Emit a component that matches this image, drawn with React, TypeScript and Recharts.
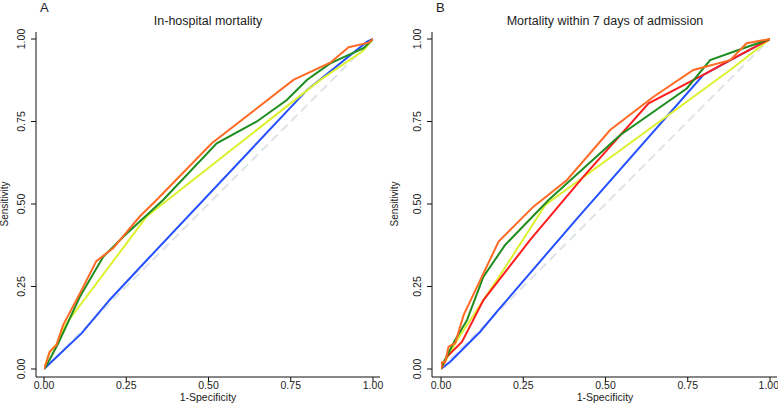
import { LineChart, Line, XAxis, YAxis, ReferenceLine } from 'recharts'

// ROC curves: 1-specificity (x) / sensitivity (y)
const ticks = [0, 0.25, 0.5, 0.75, 1]

// Panel A - in-hospital mortality
const aOrangeX = [0, 0.007, 0.017, 0.038, 0.058, 0.109, 0.159, 0.21, 0.291, 0.342, 0.51, 0.758, 0.87, 0.926, 0.987, 1]
const aOrangeY = [0, 0.02, 0.052, 0.073, 0.133, 0.229, 0.327, 0.366, 0.462, 0.512, 0.684, 0.876, 0.928, 0.975, 0.989, 1]
const aGreenX = [0, 0.007, 0.027, 0.043, 0.109, 0.18, 0.241, 0.362, 0.525, 0.647, 0.738, 0.799, 0.87, 0.971, 1]
const aGreenY = [0, 0.01, 0.047, 0.077, 0.219, 0.34, 0.401, 0.512, 0.684, 0.75, 0.815, 0.876, 0.926, 0.972, 1]
const aYellowX = [0, 0.017, 0.038, 0.068, 0.312, 0.84, 0.971, 1]
const aYellowY = [0, 0.05, 0.075, 0.138, 0.462, 0.876, 0.965, 1]
const aBlueX = [0, 0.114, 0.2, 0.322, 0.799, 0.982, 1]
const aBlueY = [0, 0.108, 0.21, 0.34, 0.845, 0.992, 1]

// Panel B - mortality within 7 days of admission
const bOrangeX = [0, 0.003, 0.013, 0.023, 0.043, 0.069, 0.175, 0.281, 0.383, 0.514, 0.646, 0.767, 0.879, 0.929, 1]
const bOrangeY = [0, 0.02, 0.022, 0.068, 0.078, 0.164, 0.386, 0.492, 0.573, 0.724, 0.825, 0.906, 0.936, 0.987, 1]
const bGreenX = [0, 0.005, 0.043, 0.079, 0.129, 0.195, 0.327, 0.545, 0.747, 0.818, 0.919, 1]
const bGreenY = [0, 0.015, 0.088, 0.148, 0.28, 0.376, 0.512, 0.709, 0.85, 0.936, 0.972, 1]
const bRedX = [0, 0.018, 0.064, 0.129, 0.271, 0.433, 0.631, 0.797, 0.879, 1]
const bRedY = [0, 0.037, 0.083, 0.209, 0.391, 0.583, 0.805, 0.891, 0.936, 1]
const bYellowX = [0, 0.049, 0.129, 0.18, 0.317, 0.879, 1]
const bYellowY = [0, 0.088, 0.209, 0.285, 0.497, 0.906, 1]
const bBlueX = [0, 0.028, 0.119, 0.17, 0.418, 0.797, 1]
const bBlueY = [0, 0.022, 0.113, 0.174, 0.461, 0.891, 1]

const toPoints = (xs: number[], ys: number[]) => xs.map((x, i) => ({ x, y: ys[i] }))

const FONT = '"Liberation Sans", Arial, Helvetica, sans-serif'
const TEXT = '#222'

const YTick = ({ x, y, payload }: any) => (
  <text
    transform={`translate(${x - 6},${y}) rotate(-90)`}
    textAnchor="middle"
    fontSize={10.5}
    fontFamily={FONT}
    fill={TEXT}
  >
    {Number(payload.value).toFixed(2)}
  </text>
)

interface Series {
  color: string
  xs: number[]
  ys: number[]
}

interface PanelProps {
  width: number
  yAxisWidth: number
  padLeft: number
  series: Series[]
}

function RocPanel({ width, yAxisWidth, padLeft, series }: PanelProps) {
  return (
    <LineChart width={width} height={403} margin={{ top: 32, right: width === 390 ? 10 : 1, bottom: 0, left: 0 }}>
      <XAxis
        dataKey="x"
        type="number"
        domain={[0, 1]}
        ticks={ticks}
        tickFormatter={(v: number) => v.toFixed(2)}
        padding={{ left: padLeft, right: 7 }}
        height={26}
        tickSize={5}
        tickMargin={0}
        stroke="#111"
        tick={{ fill: TEXT, fontSize: 10.5, fontFamily: FONT }}
        allowDataOverflow
      />
      <YAxis
        dataKey="y"
        type="number"
        domain={[0, 1]}
        ticks={ticks}
        padding={{ top: 7, bottom: 8 }}
        width={yAxisWidth}
        tickSize={5}
        tickMargin={0}
        stroke="#111"
        tick={<YTick />}
      />
      <ReferenceLine
        segment={[{ x: 0, y: 0 }, { x: 1, y: 1 }]}
        stroke="#dfe4e8"
        strokeWidth={2}
        strokeDasharray="9 5"
        ifOverflow="visible"
      />
      {series.map((s, i) => (
        <Line
          key={i}
          data={toPoints(s.xs, s.ys)}
          dataKey="y"
          stroke={s.color}
          strokeWidth={2}
          dot={false}
          type="linear"
          isAnimationActive={false}
        />
      ))}
    </LineChart>
  )
}

const ORANGE = '#ff6a24'
const GREEN = '#1e8c1e'
const YELLOW = '#dcf030'
const BLUE = '#2450ff'
const RED = '#ff1e1e'

const seriesA: Series[] = [
  { color: BLUE, xs: aBlueX, ys: aBlueY },
  { color: YELLOW, xs: aYellowX, ys: aYellowY },
  { color: GREEN, xs: aGreenX, ys: aGreenY },
  { color: ORANGE, xs: aOrangeX, ys: aOrangeY },
]

const seriesB: Series[] = [
  { color: BLUE, xs: bBlueX, ys: bBlueY },
  { color: YELLOW, xs: bYellowX, ys: bYellowY },
  { color: RED, xs: bRedX, ys: bRedY },
  { color: GREEN, xs: bGreenX, ys: bGreenY },
  { color: ORANGE, xs: bOrangeX, ys: bOrangeY },
]

const abs = (left: number, top: number, extra: React.CSSProperties = {}): React.CSSProperties => ({
  position: 'absolute',
  left,
  top,
  fontFamily: FONT,
  color: TEXT,
  whiteSpace: 'nowrap',
  lineHeight: 1,
  ...extra,
})

export default function App() {
  return (
    <div style={{ position: 'absolute', left: 0, top: 0, width: 778, height: 403, background: '#fff', overflow: 'hidden' }}>
      <div style={{ position: 'absolute', left: 0, top: 0 }}>
        <RocPanel width={390} yAxisWidth={36} padLeft={8} series={seriesA} />
      </div>
      <div style={{ position: 'absolute', left: 390, top: 0 }}>
        <RocPanel width={388} yAxisWidth={42} padLeft={9} series={seriesB} />
      </div>

      <div style={abs(40, 1, { fontSize: 13 })}>A</div>
      <div style={abs(436, 1, { fontSize: 13 })}>B</div>

      <div style={abs(208, 15, { fontSize: 12.5, transform: 'translateX(-50%)' })}>In-hospital mortality</div>
      <div style={abs(605, 15, { fontSize: 12.5, transform: 'translateX(-50%)' })}>Mortality within 7 days of admission</div>

      <div style={abs(208, 392, { fontSize: 10.5, transform: 'translateX(-50%)' })}>1-Specificity</div>
      <div style={abs(605, 392, { fontSize: 10.5, transform: 'translateX(-50%)' })}>1-Specificity</div>

      <div style={abs(5, 204, { fontSize: 10, transform: 'translate(-50%, -50%) rotate(-90deg)' })}>Sensitivity</div>
      <div style={abs(395, 204, { fontSize: 10, transform: 'translate(-50%, -50%) rotate(-90deg)' })}>Sensitivity</div>
    </div>
  )
}
